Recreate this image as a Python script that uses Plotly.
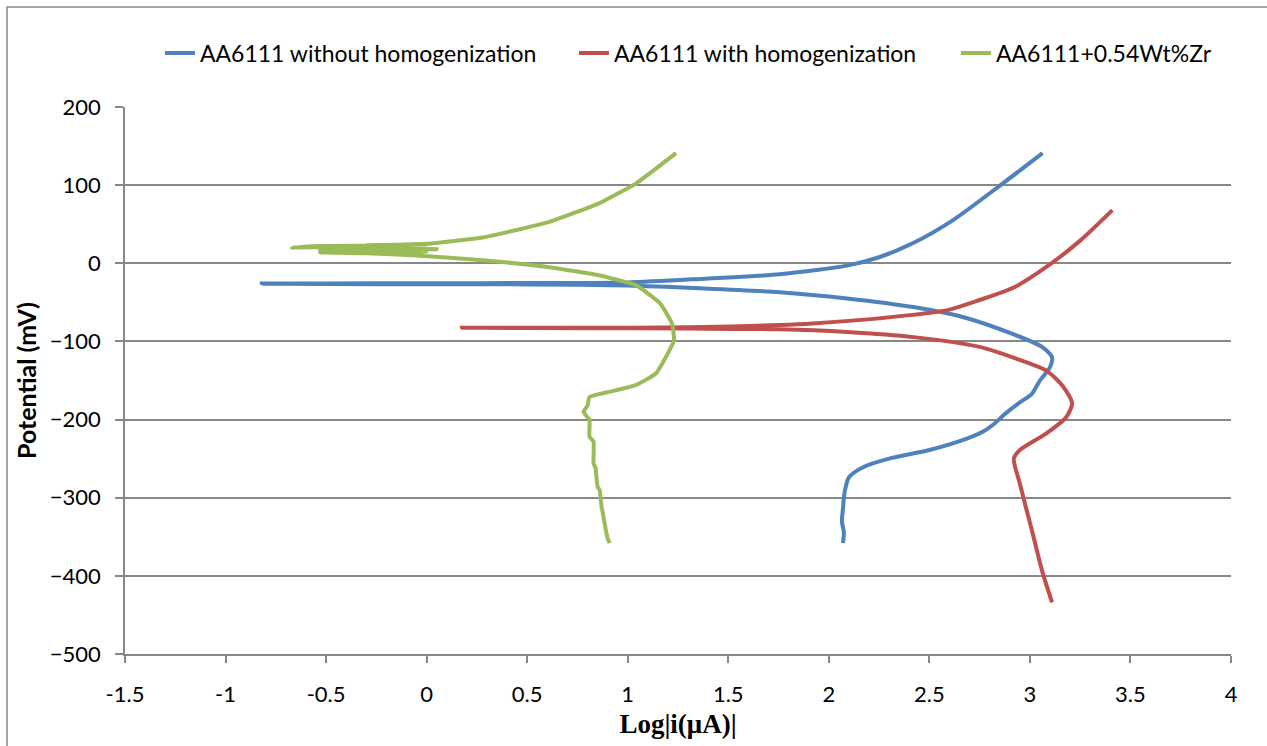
import plotly.graph_objects as go

# ---- data ----
# AA6111 without homogenization (blue): log|i| (x) and potential mV (y)
blue_x = [2.07, 2.075, 2.065, 2.07, 2.075, 2.08, 2.10, 2.17, 2.30, 2.50, 2.69, 2.77, 2.82, 2.88,
          2.95, 3.01, 3.05, 3.10, 3.11, 3.06, 2.91, 2.67, 2.42, 2.09, 1.755, 1.36, 1.0, 0.5, 0.0,
          -0.5, -0.82, -0.5, 0.0, 0.5, 1.0, 1.36, 1.755, 2.09, 2.25, 2.417, 2.616, 2.864, 3.063]
blue_y = [-358, -345, -330, -315, -300, -291, -274, -261, -250, -239, -224, -215, -206, -192,
          -178, -167, -150, -133, -120, -107, -90, -69, -56, -45, -37, -32, -28.5, -27, -26.8,
          -26.5, -26, -25.8, -25.6, -25.3, -24.5, -20, -14, -3, 7.7, 25.6, 55, 102, 141]

# AA6111 with homogenization (red)
red_x = [3.11, 3.06, 3.01, 2.95, 2.92, 2.95, 3.08, 3.18, 3.21, 3.16, 3.08, 2.91, 2.75, 2.42,
         2.09, 1.755, 1.3, 0.8, 0.175, 0.8, 1.3, 1.755, 1.92, 2.25, 2.59, 2.75, 2.92, 3.08,
         3.25, 3.41]
red_y = [-434, -393, -342, -282, -250, -239, -218, -197, -179, -156, -137, -120, -107, -94.5,
         -88, -84.5, -83.5, -83, -82.5, -82.5, -82, -79, -77, -70.5, -60, -47, -31, -5,
         29, 68]

# AA6111+0.54Wt%Zr (green)
green_x = [0.91, 0.90, 0.89, 0.885, 0.875, 0.87, 0.86, 0.85, 0.84, 0.83, 0.83, 0.81, 0.81,
           0.80, 0.78, 0.80, 0.81, 0.90, 1.04, 1.14, 1.19, 1.23, 1.22, 1.16, 1.04, 0.85,
           0.61, 0.28, -0.05, -0.3, -0.53, 0.0, -0.53, 0.05, -0.53, -0.67, -0.53, 0.0,
           -0.3, 0.0, 0.28, 0.61, 0.86, 1.04, 1.24]
green_y = [-358, -352, -340, -333, -318, -312, -290, -286, -262, -256, -228, -222, -200,
           -197, -190, -182, -171, -165, -156, -141, -120, -98.5, -77, -51, -28, -15,
           -5, 3.8, 10, 13, 14, 15, 17, 18, 21, 20, 22, 24, 23, 25, 33, 53, 77, 102, 141]

series_names = ["AA6111 without homogenization", "AA6111 with homogenization", "AA6111+0.54Wt%Zr"]
series_colors = ["#4F81BD", "#C0504D", "#9BBB59"]

x_ticks = [-1.5, -1, -0.5, 0, 0.5, 1, 1.5, 2, 2.5, 3, 3.5, 4]
x_tick_labels = ["-1.5", "-1", "-0.5", "0", "0.5", "1", "1.5", "2", "2.5", "3", "3.5", "4"]
y_ticks = [200, 100, 0, -100, -200, -300, -400, -500]

FONT = "Lato"
GRID = "#888888"

legend_widths = [369, 337, None]
smooths = [0.7, 0.7, 0.4]

fig = go.Figure()
for xs, ys, name, col, lw, sm in zip([blue_x, red_x, green_x], [blue_y, red_y, green_y],
                                     series_names, series_colors, legend_widths, smooths):
    fig.add_trace(go.Scatter(x=xs, y=ys, mode="lines", name=name, legendwidth=lw,
                             line=dict(color=col, width=4, shape="spline", smoothing=sm)))

fig.update_layout(
    width=1267, height=746,
    margin=dict(l=125, r=36, t=107, b=92, autoexpand=False),
    paper_bgcolor="white", plot_bgcolor="white",
    font=dict(family=FONT, size=22, color="#000000"),
    showlegend=True,
    legend=dict(orientation="h", x=0.0316, xanchor="left", y=1.0987, yanchor="middle",
                font=dict(family=FONT, size=23), bgcolor="rgba(0,0,0,0)",
                itemwidth=30, traceorder="normal"),
    xaxis=dict(range=[-1.5, 4], tickmode="array", tickvals=x_ticks, ticktext=x_tick_labels,
               showgrid=False, zeroline=False, showline=True, linecolor=GRID, linewidth=1.5,
               ticks="outside", ticklen=7, tickcolor=GRID, tickwidth=1.5,
               ticklabelstandoff=13,
               tickfont=dict(family=FONT, size=22),
               title=dict(text="<b>Log|i(μA)|</b>", standoff=8,
                          font=dict(family="Liberation Serif", size=27))),
    yaxis=dict(range=[-500, 200], tickmode="array", tickvals=y_ticks,
               showgrid=True, gridcolor=GRID, gridwidth=1.5,
               zeroline=False, showline=True, linecolor=GRID, linewidth=1.5,
               ticks="outside", ticklen=8, tickcolor=GRID, tickwidth=1.5,
               ticklabelstandoff=10,
               tickfont=dict(family=FONT, size=22),
               title=dict(text="<b>Potential (mV)</b>", standoff=6,
                          font=dict(family=FONT, size=25))),
    shapes=[dict(type="path", xref="paper", yref="paper",
                 path="M -0.1067 -0.3 L -0.1067 1.1828 L 1.2 1.1828",
                 line=dict(color="#8a8a8a", width=1.5), layer="above")],
)

fig.write_html("out.html")
